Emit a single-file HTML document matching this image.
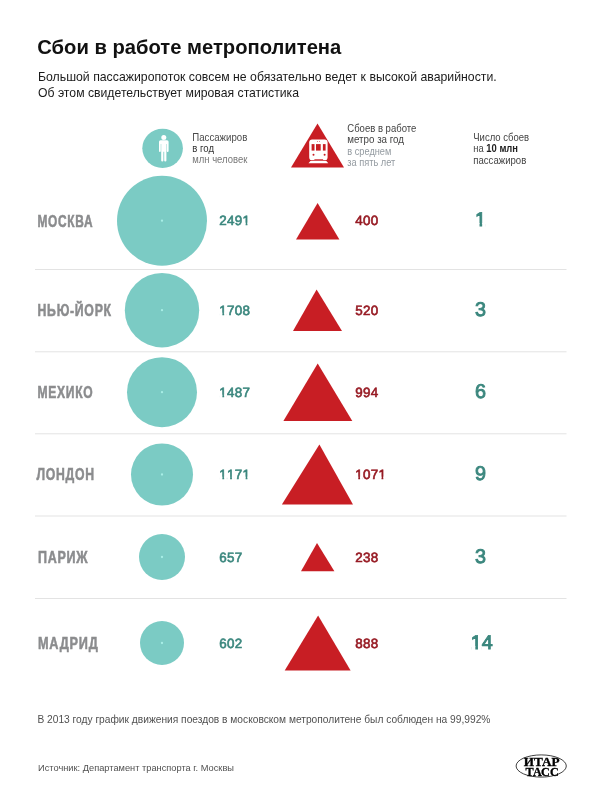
<!DOCTYPE html>
<html lang="ru"><head><meta charset="utf-8"><title>Сбои в работе метрополитена</title>
<style>
html,body{margin:0;padding:0;background:#fff}
svg{display:block}
text{font-family:"Liberation Sans",Arial,Helvetica,sans-serif}
.b{font-weight:bold}
</style></head><body>
<svg width="600" height="794" viewBox="0 0 600 794">
<rect width="600" height="794" fill="#fff"/>
<text x="37.3" y="54" font-size="20.5" fill="#111" textLength="304" lengthAdjust="spacingAndGlyphs" class="b">Сбои в работе метрополитена</text>
<text x="38" y="81.3" font-size="12.6" fill="#1a1a1a" textLength="458.7" lengthAdjust="spacingAndGlyphs" >Большой пассажиропоток совсем не обязательно ведет к высокой аварийности.</text>
<text x="38" y="96.5" font-size="12.6" fill="#1a1a1a" textLength="261" lengthAdjust="spacingAndGlyphs" >Об этом свидетельствует мировая статистика</text>
<ellipse cx="162.6" cy="148.3" rx="20.3" ry="19.6" fill="#7bcbc4"/>
<g fill="#fff"><circle cx="163.8" cy="137.4" r="2.5"/><path d="M160.6 140.2h6.4q1.6 0 1.6 1.6v9.2q0 .9-.9.9t-.9-.9v-7h-.4v16.600q0 1-1.100 1t-1.100-1v-8.800h-.8v8.800q0 1-1.100 1t-1.100-1v-16.600h-.4v7q0 .9-.9.9t-.9-.9v-9.200q0-1.600 1.600-1.600z"/></g>
<text x="192.3" y="140.7" font-size="10" fill="#4a4a4a" textLength="55" lengthAdjust="spacingAndGlyphs" >Пассажиров</text>
<text x="192.3" y="151.6" font-size="10" fill="#333" textLength="21.7" lengthAdjust="spacingAndGlyphs" >в год</text>
<text x="192.3" y="163" font-size="10" fill="#777" textLength="55" lengthAdjust="spacingAndGlyphs" >млн человек</text>
<path d="M317.500 123.500L344 167.500H291z" fill="#c81e24"/>
<g><path d="M312.200 139.500h12.400q3 0 3 3v14.500q0 3-2.100 3.300h-14.200q-2.100-.3-2.100-3.300v-14.500q0-3 3-3z" fill="#fff"/><path d="M310.400 161.100h16l1.900 2.200h-19.800z" fill="#fff"/><g fill="#c81e24"><rect x="311.600" y="144.100" width="2.900" height="6.500"/><rect x="316" y="144.100" width="4.700" height="6.500"/><rect x="322.900" y="144.100" width="2.700" height="6.500"/><circle cx="313.500" cy="154.800" r="1"/><circle cx="324.600" cy="154.800" r="1"/><circle cx="317.400" cy="141.500" r="0.450"/><circle cx="319.600" cy="141.500" r="0.450"/><rect x="314.400" y="159.300" width="8.700" height="0.700"/></g></g>
<text x="347.3" y="132.3" font-size="10" fill="#444" textLength="69" lengthAdjust="spacingAndGlyphs" >Сбоев в работе</text>
<text x="347.3" y="143.2" font-size="10" fill="#444" textLength="56.7" lengthAdjust="spacingAndGlyphs" >метро за год</text>
<text x="347.3" y="154.5" font-size="10" fill="#939aa0" textLength="44" lengthAdjust="spacingAndGlyphs" >в среднем</text>
<text x="347.3" y="165.7" font-size="10" fill="#939aa0" textLength="48" lengthAdjust="spacingAndGlyphs" >за пять лет</text>
<text x="473.3" y="141.3" font-size="10" fill="#444" textLength="55.7" lengthAdjust="spacingAndGlyphs" >Число сбоев</text>
<text x="473.3" y="152.4" font-size="10" fill="#444" textLength="44.7" lengthAdjust="spacingAndGlyphs">на <tspan class="b" fill="#222">10 млн</tspan></text>
<text x="473.3" y="163.6" font-size="10" fill="#444" textLength="53" lengthAdjust="spacingAndGlyphs" >пассажиров</text>
<rect x="35" y="269.0" width="531.500" height="1" fill="#e3e3e3"/>
<rect x="35" y="351.3" width="531.500" height="1" fill="#e3e3e3"/>
<rect x="35" y="433.3" width="531.500" height="1" fill="#e3e3e3"/>
<rect x="35" y="515.5" width="531.500" height="1" fill="#e3e3e3"/>
<rect x="35" y="598.0" width="531.500" height="1" fill="#e3e3e3"/>
<text transform="translate(37.5,226.5)  scale(0.697,1)" font-size="17.1" class="b" fill="#8b8c8e" letter-spacing="1.00" stroke="#8b8c8e" stroke-width="0.55">МОСКВА</text>
<circle cx="162" cy="220.7" r="45.0" fill="#7bcbc4"/><circle cx="162" cy="220.7" r="1.150" fill="#a8eee6"/>
<text x="219.3" y="225" font-size="13.4" fill="#3b877e" stroke="#3b877e" stroke-width="0.62" text-rendering="geometricPrecision" style="font-kerning:none" letter-spacing="0.3">2491</text>
<rect x="242.87" y="222.69" width="2.75" height="3.92" fill="#fff"/><rect x="247.42" y="222.69" width="2.64" height="3.92" fill="#fff"/>
<path d="M317.6 203.0L339.4 239.4H296.0z" fill="#c81e24"/>
<text x="355.2" y="225" font-size="13.4" fill="#971b24" stroke="#971b24" stroke-width="0.62" text-rendering="geometricPrecision" style="font-kerning:none" letter-spacing="0.3">400</text>
<text x="480.5" y="226" font-size="19.8" fill="#3b877e" text-anchor="middle" stroke="#3b877e" stroke-width="0.9" text-rendering="geometricPrecision" style="font-kerning:none" letter-spacing="0">1</text>
<rect x="475.65" y="223.07" width="3.87" height="4.68" fill="#fff"/><rect x="482.17" y="223.07" width="3.72" height="4.68" fill="#fff"/>
<text transform="translate(37.5,316.0)  scale(0.719,1)" font-size="17.1" class="b" fill="#8b8c8e" letter-spacing="1.00" stroke="#8b8c8e" stroke-width="0.55">НЬЮ-ЙОРК</text>
<circle cx="162" cy="310.2" r="37.2" fill="#7bcbc4"/><circle cx="162" cy="310.2" r="1.150" fill="#a8eee6"/>
<text x="219.3" y="315" font-size="13.4" fill="#3b877e" stroke="#3b877e" stroke-width="0.62" text-rendering="geometricPrecision" style="font-kerning:none" letter-spacing="0.3">1708</text>
<rect x="219.61" y="312.69" width="2.75" height="3.92" fill="#fff"/><rect x="224.16" y="312.69" width="2.64" height="3.92" fill="#fff"/>
<path d="M316.6 289.6L342.0 331.0H293.0z" fill="#c81e24"/>
<text x="355.2" y="315" font-size="13.4" fill="#971b24" stroke="#971b24" stroke-width="0.62" text-rendering="geometricPrecision" style="font-kerning:none" letter-spacing="0.3">520</text>
<text x="480.5" y="316" font-size="19.8" fill="#3b877e" text-anchor="middle" stroke="#3b877e" stroke-width="0.9" text-rendering="geometricPrecision" style="font-kerning:none" letter-spacing="0">3</text>
<text transform="translate(37.5,398.0)  scale(0.707,1)" font-size="17.1" class="b" fill="#8b8c8e" letter-spacing="1.00" stroke="#8b8c8e" stroke-width="0.55">МЕХИКО</text>
<circle cx="162" cy="392.2" r="35.0" fill="#7bcbc4"/><circle cx="162" cy="392.2" r="1.150" fill="#a8eee6"/>
<text x="219.3" y="397" font-size="13.4" fill="#3b877e" stroke="#3b877e" stroke-width="0.62" text-rendering="geometricPrecision" style="font-kerning:none" letter-spacing="0.3">1487</text>
<rect x="219.61" y="394.69" width="2.75" height="3.92" fill="#fff"/><rect x="224.16" y="394.69" width="2.64" height="3.92" fill="#fff"/>
<path d="M317.7 363.4L352.3 420.9H283.4z" fill="#c81e24"/>
<text x="355.2" y="397" font-size="13.4" fill="#971b24" stroke="#971b24" stroke-width="0.62" text-rendering="geometricPrecision" style="font-kerning:none" letter-spacing="0.3">994</text>
<text x="480.5" y="398" font-size="19.8" fill="#3b877e" text-anchor="middle" stroke="#3b877e" stroke-width="0.9" text-rendering="geometricPrecision" style="font-kerning:none" letter-spacing="0">6</text>
<text transform="translate(36.5,480.3)  scale(0.716,1)" font-size="17.1" class="b" fill="#8b8c8e" letter-spacing="1.00" stroke="#8b8c8e" stroke-width="0.55">ЛОНДОН</text>
<circle cx="162" cy="474.5" r="31.0" fill="#7bcbc4"/><circle cx="162" cy="474.5" r="1.150" fill="#a8eee6"/>
<text x="219.3" y="479" font-size="13.4" fill="#3b877e" stroke="#3b877e" stroke-width="0.62" text-rendering="geometricPrecision" style="font-kerning:none" letter-spacing="0.3">1171</text>
<rect x="219.61" y="476.69" width="2.75" height="3.92" fill="#fff"/><rect x="224.16" y="476.69" width="2.64" height="3.92" fill="#fff"/>
<rect x="227.36" y="476.69" width="2.75" height="3.92" fill="#fff"/><rect x="231.92" y="476.69" width="2.64" height="3.92" fill="#fff"/>
<rect x="242.87" y="476.69" width="2.75" height="3.92" fill="#fff"/><rect x="247.42" y="476.69" width="2.64" height="3.92" fill="#fff"/>
<path d="M319.4 444.6L353.0 504.6H281.9z" fill="#c81e24"/>
<text x="355.2" y="479" font-size="13.4" fill="#971b24" stroke="#971b24" stroke-width="0.62" text-rendering="geometricPrecision" style="font-kerning:none" letter-spacing="0.3">1071</text>
<rect x="355.51" y="476.69" width="2.75" height="3.92" fill="#fff"/><rect x="360.06" y="476.69" width="2.64" height="3.92" fill="#fff"/>
<rect x="378.77" y="476.69" width="2.75" height="3.92" fill="#fff"/><rect x="383.32" y="476.69" width="2.64" height="3.92" fill="#fff"/>
<text x="480.5" y="480" font-size="19.8" fill="#3b877e" text-anchor="middle" stroke="#3b877e" stroke-width="0.9" text-rendering="geometricPrecision" style="font-kerning:none" letter-spacing="0">9</text>
<text transform="translate(38.0,562.8)  scale(0.733,1)" font-size="17.1" class="b" fill="#8b8c8e" letter-spacing="1.00" stroke="#8b8c8e" stroke-width="0.55">ПАРИЖ</text>
<circle cx="162" cy="557.0" r="23.0" fill="#7bcbc4"/><circle cx="162" cy="557.0" r="1.150" fill="#a8eee6"/>
<text x="219.3" y="562" font-size="13.4" fill="#3b877e" stroke="#3b877e" stroke-width="0.62" text-rendering="geometricPrecision" style="font-kerning:none" letter-spacing="0.3">657</text>
<path d="M317.0 543.1L334.4 571.3H301.0z" fill="#c81e24"/>
<text x="355.2" y="562" font-size="13.4" fill="#971b24" stroke="#971b24" stroke-width="0.62" text-rendering="geometricPrecision" style="font-kerning:none" letter-spacing="0.3">238</text>
<text x="480.5" y="563" font-size="19.8" fill="#3b877e" text-anchor="middle" stroke="#3b877e" stroke-width="0.9" text-rendering="geometricPrecision" style="font-kerning:none" letter-spacing="0">3</text>
<text transform="translate(38.0,648.8)  scale(0.744,1)" font-size="17.1" class="b" fill="#8b8c8e" letter-spacing="1.00" stroke="#8b8c8e" stroke-width="0.55">МАДРИД</text>
<circle cx="162" cy="643.0" r="22.0" fill="#7bcbc4"/><circle cx="162" cy="643.0" r="1.150" fill="#a8eee6"/>
<text x="219.3" y="648" font-size="13.4" fill="#3b877e" stroke="#3b877e" stroke-width="0.62" text-rendering="geometricPrecision" style="font-kerning:none" letter-spacing="0.3">602</text>
<path d="M318.1 615.6L350.6 670.4H284.7z" fill="#c81e24"/>
<text x="355.2" y="648" font-size="13.4" fill="#971b24" stroke="#971b24" stroke-width="0.62" text-rendering="geometricPrecision" style="font-kerning:none" letter-spacing="0.3">888</text>
<text x="481.8" y="649" font-size="19.8" fill="#3b877e" text-anchor="middle" stroke="#3b877e" stroke-width="0.9" text-rendering="geometricPrecision" style="font-kerning:none" letter-spacing="0">14</text>
<rect x="471.45" y="646.07" width="3.87" height="4.68" fill="#fff"/><rect x="477.97" y="646.07" width="3.72" height="4.68" fill="#fff"/>
<text x="37.4" y="723" font-size="10.2" fill="#505050" textLength="453" lengthAdjust="spacingAndGlyphs" >В 2013 году график движения поездов в московском метрополитене был соблюден на 99,992%</text>
<text x="38" y="770.6" font-size="9.5" fill="#505050" textLength="196" lengthAdjust="spacingAndGlyphs" >Источник: Департамент транспорта г. Москвы</text>
<g><ellipse cx="541.200" cy="766" rx="25.100" ry="11.100" fill="#fff" stroke="#111" stroke-width="0.800"/><text x="523.700" y="765.800" font-size="13.300" fill="#000" stroke="#000" stroke-width="0.350" style="font-family:'Liberation Serif',serif;font-weight:bold" textLength="36" lengthAdjust="spacingAndGlyphs">ИТАР</text><text x="525.400" y="775.900" font-size="13.300" fill="#000" stroke="#000" stroke-width="0.350" style="font-family:'Liberation Serif',serif;font-weight:bold" textLength="33.300" lengthAdjust="spacingAndGlyphs">ТАСС</text></g>
</svg></body></html>
